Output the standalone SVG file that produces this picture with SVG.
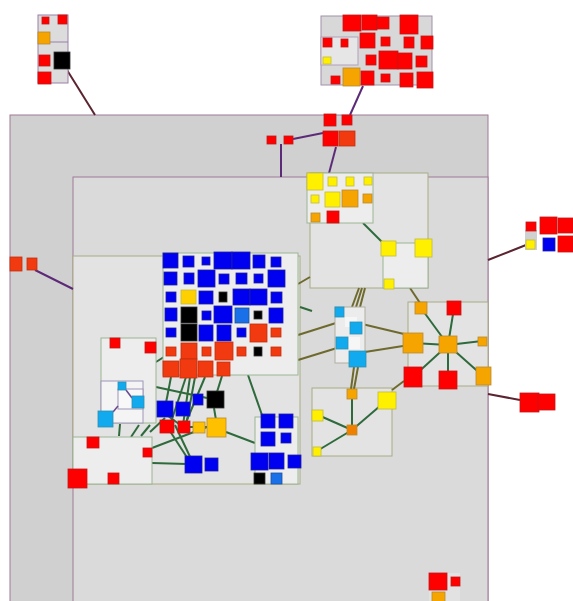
<svg xmlns="http://www.w3.org/2000/svg" width="573" height="601" viewBox="0 0 573 601">
<style>
.r{fill:#ff0000;stroke:#c21818;stroke-width:.8}
.q{fill:#f23a10;stroke:#c23010;stroke-width:.8}
.o{fill:#f5a400;stroke:#b88a30;stroke-width:.8}
.y{fill:#fff000;stroke:#c0b840;stroke-width:.8}
.b{fill:#0000f0;stroke:#2020a0;stroke-width:.8}
.bb{fill:#1a70e8;stroke:#2050a0;stroke-width:.8}
.c{fill:#12aaee;stroke:#3090b0;stroke-width:.8}
.k{fill:#000;stroke:#333;stroke-width:.8}
.g1{fill:#d0d0d0;stroke:#a07a98;stroke-width:1}
.g2{fill:#dadada;stroke:#a07a98;stroke-width:1}
.lb{fill:#e3e3e3;stroke:#a8ac84;stroke-width:1}
.lw{fill:#ededed;stroke:#9cb494;stroke-width:1}
.pe{stroke:#5c2a78;stroke-width:2;fill:none}
.me{stroke:#5a2430;stroke-width:2;fill:none}
.ge{stroke:#2e6a3c;stroke-width:2;fill:none}
.oe{stroke:#6e6a2e;stroke-width:2;fill:none}
</style>
<rect width="573" height="601" fill="#fff"/>
<g id="outer"><rect class="g1" x="10" y="115" width="478" height="492"/></g>
<g id="inner"><rect class="g2" x="73" y="177" width="415" height="430"/></g>
<g id="leftbig"><rect class="lb" x="73" y="256" width="227" height="228" fill="#e0e0e0"/></g>
<g id="upperright-box"><rect class="lb" x="310" y="173" width="118" height="115"/></g>
<g id="rightcluster-box"><rect class="lb" x="408" y="302" width="80" height="84"/></g>
<g id="lower-box"><rect class="lb" x="312" y="388" width="80" height="68"/></g>

<g id="connectors">
<line class="me" x1="67" y1="70" x2="95" y2="115"/>
<line class="pe" x1="363" y1="86" x2="350" y2="115"/>
<line class="pe" x1="293" y1="139" x2="323" y2="133"/>
<line class="pe" x1="281" y1="144" x2="281" y2="177"/>
<line class="pe" x1="336" y1="147" x2="328" y2="177"/>
<line class="pe" x1="35" y1="270" x2="73" y2="289"/>
<line class="me" x1="488" y1="260" x2="526" y2="245"/>
<line class="me" x1="488" y1="394" x2="520" y2="400"/>
<line class="ge" x1="363" y1="223" x2="382" y2="242"/>
<line class="ge" x1="417" y1="257" x2="393" y2="280"/>
<line class="oe" x1="410" y1="288" x2="420" y2="303"/>
<line class="oe" x1="298" y1="284" x2="310" y2="277"/>
<line class="oe" x1="298" y1="335" x2="336" y2="323"/>
<line class="oe" x1="298" y1="360" x2="337" y2="348" stroke-width="3"/>
<line class="oe" x1="362" y1="324" x2="404" y2="334"/>
<line class="oe" x1="365" y1="352" x2="403" y2="346" stroke-width="3"/>
<line class="oe" x1="392" y1="390" x2="404" y2="381"/>
<line class="oe" x1="352" y1="307" x2="359" y2="288"/>
<line class="oe" x1="356" y1="307" x2="362" y2="288"/>
<line class="oe" x1="360" y1="307" x2="365" y2="288"/>
<line class="oe" x1="354" y1="367" x2="351" y2="389"/>
<line class="oe" x1="358" y1="367" x2="354" y2="389"/>
<line class="ge" x1="448" y1="345" x2="421" y2="308"/>
<line class="ge" x1="448" y1="345" x2="454" y2="308"/>
<line class="ge" x1="448" y1="345" x2="413" y2="343"/>
<line class="ge" x1="448" y1="345" x2="482" y2="341"/>
<line class="ge" x1="448" y1="345" x2="413" y2="377"/>
<line class="ge" x1="448" y1="345" x2="448" y2="380"/>
<line class="ge" x1="448" y1="345" x2="483" y2="376"/>
<line class="ge" x1="352" y1="430" x2="352" y2="394"/>
<line class="ge" x1="352" y1="430" x2="387" y2="400"/>
<line class="ge" x1="352" y1="430" x2="318" y2="415"/>
<line class="ge" x1="352" y1="430" x2="317" y2="451"/>
<line class="ge" x1="300" y1="307" x2="312" y2="311"/>
<line class="ge" x1="115" y1="343" x2="150" y2="347"/>
<line class="ge" x1="150" y1="348" x2="132" y2="384"/>
<line class="ge" x1="156" y1="362" x2="167" y2="355"/>
<line class="ge" x1="156" y1="387" x2="207" y2="398"/>
<line class="ge" x1="93" y1="442" x2="113" y2="478"/>
<line class="ge" x1="87" y1="480" x2="108" y2="479"/>
<line class="ge" x1="87" y1="483" x2="108" y2="482"/>
<line class="ge" x1="119" y1="476" x2="147" y2="453"/>
<line class="ge" x1="119" y1="436" x2="120" y2="424"/>
<line class="ge" x1="131" y1="437" x2="139" y2="425"/>
<line class="ge" x1="141" y1="436" x2="150" y2="425"/>
<line class="ge" x1="152" y1="448" x2="207" y2="427"/>
<line class="ge" x1="152" y1="463" x2="187" y2="464"/>
<line class="ge" x1="171" y1="377" x2="165" y2="408"/>
<line class="ge" x1="186" y1="377" x2="170" y2="425"/>
<line class="ge" x1="190" y1="377" x2="183" y2="425"/>
<line class="ge" x1="195" y1="377" x2="186" y2="426"/>
<line class="ge" x1="205" y1="377" x2="184" y2="427"/>
<line class="ge" x1="175" y1="425" x2="193" y2="463"/>
<line class="ge" x1="166" y1="425" x2="190" y2="462"/>
<line class="ge" x1="150" y1="432" x2="165" y2="418"/>
<line class="ge" x1="160" y1="410" x2="183" y2="427"/>
<line class="ge" x1="222" y1="376" x2="217" y2="392"/>
<line class="ge" x1="214" y1="408" x2="216" y2="420"/>
<line class="ge" x1="248" y1="375" x2="262" y2="415"/>
<line class="ge" x1="226" y1="432" x2="255" y2="443"/>
<line class="ge" x1="190" y1="427" x2="207" y2="427"/>
</g>

<g id="node-topleft">
<rect x="38" y="15" width="30" height="68" fill="#dcdcdc" stroke="#9a80a8"/>
<line x1="38" y1="42" x2="68" y2="42" stroke="#9a80a8"/>
<rect class="r" x="42" y="17" width="7" height="7"/>
<rect class="r" x="58" y="15" width="9" height="9"/>
<rect class="o" x="38" y="32" width="12" height="12"/>
<rect class="r" x="39" y="55" width="11" height="11"/>
<rect class="k" x="54" y="52" width="16" height="17"/>
<rect class="r" x="38" y="72" width="13" height="12"/>
</g>

<g id="node-topright">
<rect x="321" y="16" width="111" height="69" fill="#d8d8d8" stroke="#a090a8"/>
<rect x="321" y="37" width="37" height="28" fill="#e6e6e6" stroke="#b0a0b8"/>
<rect class="r" x="343" y="15" width="18" height="16"/>
<rect class="r" x="362" y="15" width="15" height="15"/>
<rect class="r" x="377" y="17" width="12" height="12"/>
<rect class="r" x="400" y="15" width="18" height="19"/>
<rect class="r" x="323" y="38" width="9" height="9"/>
<rect class="r" x="341" y="39" width="7" height="8"/>
<rect class="r" x="360" y="33" width="15" height="15"/>
<rect class="r" x="381" y="37" width="9" height="9"/>
<rect class="r" x="404" y="37" width="10" height="11"/>
<rect class="r" x="421" y="36" width="12" height="13"/>
<rect class="y" x="323" y="57" width="8" height="7"/>
<rect class="r" x="366" y="55" width="10" height="10"/>
<rect class="r" x="379" y="51" width="19" height="18"/>
<rect class="r" x="398" y="53" width="14" height="16"/>
<rect class="r" x="416" y="56" width="11" height="11"/>
<rect class="r" x="331" y="76" width="9" height="8"/>
<rect class="o" x="343" y="68" width="17" height="18"/>
<rect class="r" x="361" y="71" width="13" height="14"/>
<rect class="r" x="381" y="74" width="9" height="8"/>
<rect class="r" x="400" y="73" width="13" height="14"/>
<rect class="r" x="417" y="72" width="16" height="16"/>
</g>

<g id="node-topcluster">
<rect class="r" x="324" y="114" width="12" height="12"/>
<rect class="r" x="342" y="115" width="10" height="10"/>
<rect class="r" x="323" y="131" width="15" height="15"/>
<rect class="q" x="339" y="131" width="16" height="15"/>
</g>
<g id="node-smallpair">
<rect class="r" x="267" y="136" width="9" height="8"/>
<rect class="r" x="284" y="136" width="9" height="8"/>
</g>

<g id="node-yellow">
<rect class="lw" x="307" y="173" width="66" height="50" fill="#efefef"/>
<rect class="y" x="307" y="173" width="16" height="17"/>
<rect class="y" x="328" y="177" width="9" height="9"/>
<rect class="y" x="346" y="177" width="8" height="9"/>
<rect class="y" x="364" y="177" width="8" height="8"/>
<rect class="y" x="311" y="195" width="8" height="8"/>
<rect class="y" x="325" y="192" width="15" height="15"/>
<rect class="o" x="342" y="190" width="16" height="17"/>
<rect class="o" x="363" y="194" width="9" height="9"/>
<rect class="o" x="311" y="213" width="9" height="9"/>
<rect class="r" x="327" y="211" width="12" height="12"/>
</g>

<g id="node-yellowsub">
<rect class="lw" x="383" y="243" width="45" height="45" fill="#e8e8e8"/>
<rect class="y" x="381" y="241" width="15" height="15"/>
<rect class="y" x="415" y="239" width="17" height="18"/>
<rect class="y" x="384" y="279" width="10" height="10"/>
</g>

<g id="node-right">
<rect x="525" y="230" width="12" height="20" fill="#d0d0d0"/>
<rect class="r" x="526" y="222" width="10" height="9"/>
<rect class="r" x="540" y="217" width="17" height="17"/>
<rect class="r" x="558" y="218" width="15" height="15"/>
<rect class="y" x="526" y="240" width="9" height="9"/>
<rect class="b" x="543" y="238" width="12" height="13"/>
<rect class="r" x="558" y="236" width="15" height="16"/>
</g>

<g id="node-left">
<rect class="q" x="10" y="257" width="12" height="14"/>
<rect class="q" x="27" y="258" width="10" height="12"/>
</g>

<g id="node-blue">
<rect class="lw" x="163" y="253" width="135" height="122" fill="#eeeeee"/>
<rect class="b" x="163" y="253" width="15" height="15"/>
<rect class="b" x="183" y="256" width="11" height="11"/>
<rect class="b" x="202" y="257" width="8" height="8"/>
<rect class="b" x="214" y="252" width="18" height="17"/>
<rect class="b" x="232" y="252" width="18" height="17"/>
<rect class="b" x="253" y="255" width="12" height="13"/>
<rect class="b" x="271" y="257" width="10" height="10"/>
<rect class="b" x="164" y="272" width="13" height="13"/>
<rect class="b" x="184" y="273" width="10" height="11"/>
<rect class="b" x="198" y="270" width="17" height="17"/>
<rect class="b" x="219" y="274" width="10" height="10"/>
<rect class="b" x="236" y="273" width="11" height="11"/>
<rect class="b" x="254" y="274" width="9" height="9"/>
<rect class="b" x="268" y="270" width="17" height="17"/>
<rect class="b" x="166" y="292" width="10" height="10"/>
<rect class="y" x="181" y="290" width="15" height="14" style="fill:#ffd000"/>
<rect class="b" x="199" y="291" width="14" height="13"/>
<rect class="k" x="219" y="292" width="8" height="10"/>
<rect class="b" x="233" y="289" width="17" height="16"/>
<rect class="b" x="250" y="289" width="17" height="16"/>
<rect class="b" x="271" y="292" width="11" height="11"/>
<rect class="b" x="165" y="308" width="12" height="13"/>
<rect class="k" x="181" y="307" width="16" height="16"/>
<rect class="b" x="202" y="311" width="9" height="9"/>
<rect class="b" x="214" y="306" width="18" height="17"/>
<rect class="bb" x="235" y="308" width="14" height="15"/>
<rect class="k" x="254" y="311" width="8" height="8"/>
<rect class="b" x="269" y="308" width="14" height="15"/>
<rect class="b" x="166" y="328" width="10" height="9"/>
<rect class="k" x="181" y="324" width="16" height="17"/>
<rect class="b" x="199" y="325" width="14" height="16"/>
<rect class="b" x="217" y="325" width="14" height="16"/>
<rect class="b" x="237" y="328" width="9" height="9"/>
<rect class="q" x="250" y="324" width="17" height="18"/>
<rect class="q" x="271" y="328" width="10" height="9"/>
<rect class="q" x="166" y="347" width="10" height="9"/>
<rect class="q" x="181" y="343" width="16" height="16"/>
<rect class="q" x="202" y="347" width="9" height="9"/>
<rect class="q" x="215" y="342" width="18" height="18"/>
<rect class="q" x="237" y="347" width="9" height="9"/>
<rect class="k" x="254" y="347" width="8" height="9"/>
<rect class="q" x="271" y="347" width="10" height="9"/>
<rect class="q" x="163" y="361" width="16" height="16"/>
<rect class="q" x="180" y="359" width="17" height="19"/>
<rect class="q" x="198" y="361" width="15" height="16"/>
<rect class="q" x="217" y="362" width="13" height="14"/>
</g>

<g id="node-leftsmall">
<rect class="lw" x="101" y="338" width="55" height="85" fill="#e6e6e6"/>
<rect x="101" y="381" width="42" height="42" fill="#f4f4f4" stroke="#a096b8"/>
<rect x="118" y="389" width="25" height="20" fill="#f8f8f8" stroke="#a096b8"/>
<line x1="126" y1="390" x2="132" y2="398" stroke="#6a4a90" stroke-width="1.5"/>
<line x1="113" y1="412" x2="118" y2="406" stroke="#6a4a90" stroke-width="1.5"/>
<rect class="r" x="110" y="338" width="10" height="10"/>
<rect class="r" x="145" y="342" width="11" height="11"/>
<rect class="c" x="118" y="382" width="8" height="8"/>
<rect class="c" x="132" y="396" width="12" height="12"/>
<rect class="c" x="98" y="411" width="15" height="16"/>
</g>

<g id="node-bottomleft">
<rect class="lw" x="73" y="437" width="79" height="47" fill="#e8e8e8"/>
<rect class="r" x="87" y="437" width="12" height="11"/>
<rect class="r" x="143" y="448" width="9" height="9"/>
<rect class="r" x="68" y="469" width="19" height="19"/>
<rect class="r" x="108" y="473" width="11" height="11"/>
</g>

<g id="node-midcluster">
<rect class="b" x="157" y="401" width="16" height="16"/>
<rect class="b" x="176" y="402" width="14" height="14"/>
<rect class="b" x="193" y="394" width="10" height="11"/>
<rect class="k" x="207" y="391" width="17" height="17"/>
<rect class="r" x="160" y="420" width="14" height="13"/>
<rect class="r" x="178" y="421" width="12" height="12"/>
<rect class="o" x="193" y="422" width="12" height="11" style="fill:#ffc000"/>
<rect class="o" x="207" y="418" width="19" height="19" style="fill:#ffc000"/>
<rect class="b" x="185" y="456" width="17" height="17"/>
<rect class="b" x="205" y="458" width="13" height="13"/>
</g>

<g id="node-bluebox2">
<rect class="lw" x="255" y="417" width="43" height="67" fill="#eeeeee" stroke="#94b0b0"/>
<rect class="b" x="261" y="414" width="14" height="14"/>
<rect class="b" x="279" y="414" width="14" height="14"/>
<rect class="b" x="261" y="432" width="14" height="14"/>
<rect class="b" x="281" y="433" width="10" height="10"/>
<rect class="b" x="251" y="453" width="17" height="17"/>
<rect class="b" x="269" y="453" width="15" height="16"/>
<rect class="b" x="288" y="455" width="13" height="13"/>
<rect class="k" x="254" y="473" width="11" height="11"/>
<rect class="bb" x="271" y="473" width="11" height="11"/>
</g>

<g id="node-cyan">
<rect x="335" y="307" width="30" height="56" fill="#ececec" stroke="#b0b0a0"/>
<rect x="345" y="317" width="12" height="10" fill="#f6f6f6"/>
<rect x="348" y="337" width="12" height="12" fill="#f6f6f6"/>
<rect class="c" x="335" y="307" width="9" height="10"/>
<rect class="c" x="350" y="322" width="12" height="12"/>
<rect class="c" x="336" y="337" width="12" height="12"/>
<rect class="c" x="349" y="351" width="17" height="16"/>
</g>

<g id="node-rightcluster">
<rect class="o" x="415" y="302" width="12" height="12"/>
<rect class="r" x="447" y="301" width="14" height="14"/>
<rect class="o" x="403" y="333" width="20" height="20"/>
<rect class="o" x="439" y="336" width="18" height="17"/>
<rect class="o" x="478" y="337" width="9" height="9"/>
<rect class="r" x="404" y="367" width="18" height="20"/>
<rect class="r" x="439" y="371" width="18" height="18"/>
<rect class="o" x="476" y="367" width="15" height="18"/>
</g>

<g id="node-lower">
<rect class="o" x="347" y="389" width="10" height="10"/>
<rect class="y" x="378" y="392" width="18" height="17"/>
<rect class="y" x="312" y="410" width="11" height="11"/>
<rect class="o" x="347" y="425" width="10" height="10" style="fill:#f08000"/>
<rect class="y" x="313" y="447" width="8" height="9"/>
</g>

<g id="node-rightlower">
<rect class="r" x="520" y="393" width="19" height="19"/>
<rect class="r" x="538" y="394" width="17" height="16"/>
</g>

<g id="node-bottom">
<rect x="429" y="573" width="31" height="28" fill="#e2e2e2"/>
<rect class="r" x="429" y="573" width="18" height="17"/>
<rect class="r" x="451" y="577" width="9" height="9"/>
<rect class="o" x="432" y="592" width="13" height="10"/>
</g>
</svg>
